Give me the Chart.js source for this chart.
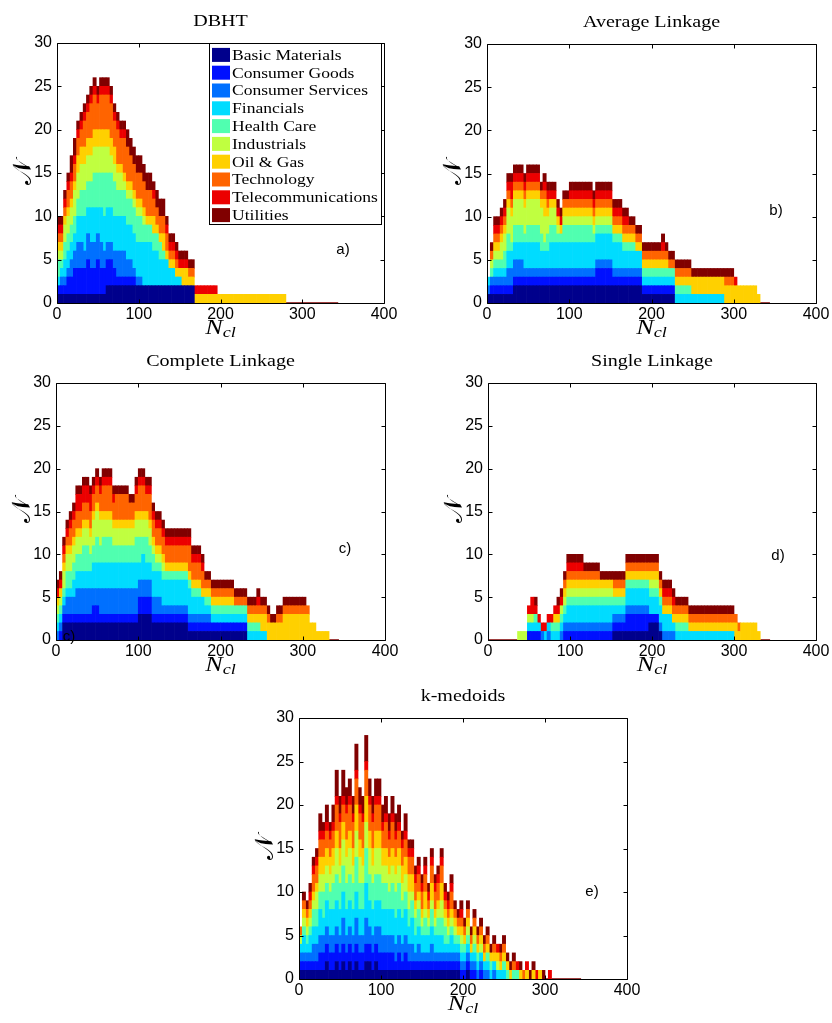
<!DOCTYPE html>
<html>
<head>
<meta charset="utf-8">
<title>Cluster composition by sector</title>
<script src="https://cdn.jsdelivr.net/npm/chart.js@4.4.1/dist/chart.umd.min.js"></script>
<style>
  body { margin: 0; background: #fff; }
  #page { position: relative; width: 832px; height: 1023px; overflow: hidden; background: #fff; }
  #page canvas { position: absolute; left: 0; top: 0; }
</style>
</head>
<body>
<div id="page"></div>
<script>
// sectors, bottom of each stack first
const sectors = ['Basic Materials', 'Consumer Goods', 'Consumer Services', 'Financials', 'Health Care',
                 'Industrials', 'Oil & Gas', 'Technology', 'Telecommunications', 'Utilities'];
const sectorColours = ['#00008c', '#0010ff', '#0070ff', '#00dcff', '#50ffb0',
                       '#c0ff40', '#ffd000', '#ff6400', '#ec0000', '#800000'];

// bins are 4 wide in N_cl, starting at 0
const binWidth = 4;
const xTicks = [0, 100, 200, 300, 400];
const yTicks = [0, 5, 10, 15, 20, 25, 30];

// one string per bin, one digit per sector (same order as sectors)
const dbht = [
  '1101211111', '1111111111', '1112221111', '1212221211', '1222221212',
  '1322231212', '1333232211', '1333332211', '1324332311', '1433332311',
  '1334332411', '1334432411', '1433432311', '1334432411', '1324532411',
  '2324432411', '2324422411', '2224422311', '2134321411', '2134321311',
  '2134311411', '2124311402', '2124311302', '2114311302', '2014311302',
  '2014311302', '2005211302', '2005201302', '2005201302', '2004202211',
  '2004201202', '2003201202', '2003102202', '2003001211', '2002001111',
  '2002001111', '2001001111', '2001001011', '2000002011', '2000002011',
  '2000001101', '2000001101', '0000001010', '0000001010', '0000001010',
  '0000001010', '0000001010', '0000001010', '0000001010', '0000001000',
  '0000001000', '0000001000', '0000001000', '0000001000', '0000001000',
  '0000001000', '0000001000', '0000001000', '0000001000', '0000001000',
  '0000001000', '0000001000', '0000001000', '0000001000', '0000001000',
  '0000001000', '0000001000', '0000001000', '0000001000', '0000001000',
  '0000000000', '0000000000', '0000000000', '0000000000', '0000000000',
  '0000000000', '0000000000', '0000000000', '0000000000', '0000000000',
  '0000000000', '0000000000', '0000000000', '0000000000', '0000000000',
  '0000000000'
];
const averageLinkage = [
  '1011000000', '1110110101', '1111111111', '1111111111', '1111121111',
  '1111221111', '1122231111', '1122131121', '2122231111', '2122231111',
  '2122231111', '2113131111', '2113231111', '2113231111', '2113231111',
  '2113231111', '2112231101', '2112132111', '2112221111', '2113221011',
  '2113221011', '2113111011', '2113101011', '2113211101', '2113211101',
  '2113211111', '2113211111', '2113211111', '2113211111', '2113211111',
  '2113211111', '2113211111', '2113111111', '2213111111', '2213111111',
  '2213111111', '2213111111', '2213111111', '2113101111', '2113101111',
  '2113101111', '2112101111', '2112101111', '2112101101', '2112101101',
  '2112001101', '2112001101', '1101101101', '1101101101', '1101101101',
  '1101101101', '1101101101', '1101101101', '1101101111', '1101101101',
  '1101100101', '1101100101', '0001101101', '0001101101', '0001101101',
  '0001101101', '0001101101', '0001002001', '0001002001', '0001002001',
  '0001002001', '0001002001', '0001002001', '0001002001', '0001002001',
  '0001002001', '0001002001', '0000002101', '0000002101', '0000002101',
  '0000002010', '0000002000', '0000002000', '0000002000', '0000002000',
  '0000002000', '0000002000', '0000001000', '0000000000', '0000000000',
  '0000000000'
];
const completeLinkage = [
  '0011111011', '0111111011', '2111121111', '2121221111', '2121221211',
  '2122221211', '2132221221', '2132221221', '2132321221', '2132321221',
  '2132221221', '2223231211', '2223331211', '2133231211', '2133321311',
  '2133321311', '2133321311', '2133221211', '2133221301', '2133221301',
  '2133221301', '2133221301', '2133221201', '2133221201', '2133321211',
  '3222321311', '3223221311', '3222321211', '3222221311', '2123211211',
  '2123111211', '2123111211', '2113111211', '2113101211', '2113101211',
  '2113101211', '2113101211', '2113101211', '2113101211', '2113101211',
  '1113101311', '1112101211', '1112101211', '1112101211', '1112001211',
  '1111101101', '1111101101', '1101101101', '1101101101', '1101101101',
  '1101101101', '1101101101', '1101101101', '1101101101', '1101100101',
  '1101100101', '1101100101', '1101100101', '0001101101', '0001101101',
  '0001101101', '0001101111', '0001002101', '0001002101', '0000002101',
  '0000002001', '0000002001', '0000002101', '0000002101', '0000003101',
  '0000003101', '0000003101', '0000003101', '0000003101', '0000003101',
  '0000003101', '0000003100', '0000002000', '0000002000', '0000001000',
  '0000001000', '0000001000', '0000001000', '0000000000', '0000000000',
  '0000000000'
];
const singleLinkage = [
  '0000000000', '0000000000', '0000000000', '0000000000', '0000000000',
  '0000000000', '0000000000', '0000000000', '0000000000', '0000010000',
  '0000010000', '0000010000', '0101010010', '0101010020', '0101100011',
  '0101000010', '0010000010', '0001000010', '0011000010', '0001100010',
  '0001101010', '0001101011', '0011110011', '0111111101', '0112111111',
  '0112111111', '0112111111', '0112111111', '0112111111', '0112111101',
  '0112111101', '0112111101', '0112111101', '0112111101', '0112111001',
  '0112111001', '0112111001', '0112111001', '1111101101', '1111101101',
  '1111101101', '1111101101', '1212101101', '1212101101', '1212101101',
  '1212101101', '1212101101', '1212101101', '1212101101', '2102111101',
  '2102111101', '2102111101', '1012101101', '0012001111', '0012001111',
  '0012001111', '0011001111', '0001101101', '0001101101', '0001101101',
  '0001101101', '0001001101', '0001001101', '0001001101', '0001001101',
  '0001001101', '0001001101', '0001001101', '0001001101', '0001001101',
  '0001001101', '0001001101', '0001001101', '0001001101', '0001001101',
  '0000002100', '0000001100', '0000002000', '0000002000', '0000002000',
  '0000002000', '0000002000', '0000001000', '0000000000', '0000000000',
  '0000000000'
];
const kMedoids = [
  '1111010100', '1112111101', '1111111101', '1112111111', '1122211211',
  '1122221211', '1223222212', '1222322211', '2223222212', '1223222211',
  '1223322212', '2223332313', '1223322312', '2233332213', '1223332312',
  '2223332312', '1223322312', '2233433313', '1223332312', '1223322312',
  '2234433313', '2223332312', '1223322312', '2223332312', '1233332312',
  '1223322212', '1223322312', '1223222212', '1223322312', '1123322212',
  '1223322212', '1123222211', '1223222212', '1122222211', '1123212211',
  '1112211211', '1122211211', '1112111211', '1112212211', '1112111111',
  '1122212211', '1112111211', '1112211211', '1112222211', '1111211111',
  '1111111111', '1112111211', '1111111101', '1111101101', '0111111111',
  '0111101101', '1111111101', '0111001101', '0111111101', '0011101101',
  '0111011101', '0011001101', '0011101101', '0001101001', '0011001101',
  '0001011010', '0001001101', '0001101101', '0000101001', '0000001001',
  '0000100101', '0000100010', '0000001001', '0000000100', '0000001010',
  '0000000001', '0000001001', '0000000010', '0000001000', '0000000001',
  '0000000000', '0000000010', '0000000000', '0000000000', '0000000000',
  '0000000000', '0000000000', '0000000000', '0000000000', '0000000000',
  '0000000000'
];

// plot rectangles in page pixels: left, top, right, bottom
const panels = [
  { bins: dbht, title: 'DBHT', area: [57, 43, 384, 303], tag: 'a)', tagAt: [343, 250], legendBox: [209, 43, 382, 225] },
  { bins: averageLinkage, title: 'Average Linkage', area: [487, 44, 816, 303], tag: 'b)', tagAt: [776, 211] },
  { bins: completeLinkage, title: 'Complete Linkage', area: [56, 383, 385, 640], tag: 'c)', tagAt: [345, 549], extraTag: [69, 637] },
  { bins: singleLinkage, title: 'Single Linkage', area: [488, 383, 816, 640], tag: 'd)', tagAt: [778, 556] },
  { bins: kMedoids, title: 'k-medoids', area: [299, 718, 627, 979], tag: 'e)', tagAt: [592, 892] }
];

const W = 832, H = 1023;
const yAxisWidth = 40, xAxisHeight = 24;
const serif = '"Liberation Serif", "Times New Roman", serif';
const sans = '"Liberation Sans", Arial, sans-serif';

// serif text, stretched sideways a little
function wideText(ctx, text, x, y, font, stretch, align) {
  ctx.save();
  ctx.font = font;
  const w = ctx.measureText(text).width * stretch;
  let left = x;
  if (align === 'center') left = x - w / 2;
  if (align === 'right') left = x - w;
  ctx.translate(left, y);
  ctx.scale(stretch, 1);
  ctx.textAlign = 'left';
  ctx.fillText(text, 0, 0);
  ctx.restore();
  return w;
}

// box with inward ticks on all four sides
const framePlugin = {
  id: 'frame',
  afterDraw(chart) {
    const { ctx, chartArea: a, scales: { x, y } } = chart;
    const l = Math.round(a.left) + 0.5, r = Math.round(a.right) + 0.5;
    const t = Math.round(a.top) + 0.5, b = Math.round(a.bottom) + 0.5;
    ctx.save();
    ctx.strokeStyle = '#000';
    ctx.lineWidth = 1;
    ctx.beginPath();
    ctx.rect(l, t, r - l, b - t);
    xTicks.forEach(v => {
      const px = Math.round(x.getPixelForValue(v)) + 0.5;
      ctx.moveTo(px, b); ctx.lineTo(px, b - 4);
      ctx.moveTo(px, t); ctx.lineTo(px, t + 4);
    });
    yTicks.forEach(v => {
      const py = Math.round(y.getPixelForValue(v)) + 0.5;
      ctx.moveTo(l, py); ctx.lineTo(l + 4, py);
      ctx.moveTo(r, py); ctx.lineTo(r - 4, py);
    });
    ctx.stroke();
    ctx.restore();
  }
};

function textPlugin(p) {
  return {
    id: 'panelText',
    afterDraw(chart) {
      const { ctx, chartArea: a } = chart;
      const cx = (a.left + a.right) / 2;
      ctx.save();
      ctx.fillStyle = '#000';
      ctx.textBaseline = 'alphabetic';

      // title
      wideText(ctx, p.title, cx, a.top - 17, '17px ' + serif, 1.18, 'center');

      // N_cl under the x axis
      const big = 'italic 21px ' + serif;
      const small = 'italic 14px ' + serif;
      ctx.font = big;
      const wN = ctx.measureText('N').width * 1.25;
      ctx.font = small;
      const wS = ctx.measureText('cl').width * 1.3;
      const x0 = cx - (wN + wS) / 2;
      wideText(ctx, 'N', x0, a.bottom + 31, big, 1.25, 'left');
      wideText(ctx, 'cl', x0 + wN, a.bottom + 34, small, 1.3, 'left');

      // script N on the y axis
      ctx.save();
      ctx.translate(a.left - 33, (a.top + a.bottom) / 2 - 1);
      ctx.rotate(-Math.PI / 2);
      ctx.font = '26px "DejaVu Serif", serif';
      ctx.textAlign = 'center';
      ctx.textBaseline = 'middle';
      ctx.fillText('\u{1D4A9}', 0, 0);
      ctx.restore();

      // panel letter
      ctx.font = '15px ' + sans;
      ctx.textAlign = 'center';
      ctx.textBaseline = 'middle';
      ctx.fillText(p.tag, p.tagAt[0], p.tagAt[1]);
      if (p.extraTag) ctx.fillText(p.tag, p.extraTag[0], p.extraTag[1]);

      // sector legend
      if (p.legendBox) {
        const [bl, bt, br, bb] = p.legendBox;
        ctx.fillStyle = '#fff';
        ctx.fillRect(bl, bt, br - bl, bb - bt);
        ctx.strokeStyle = '#000';
        ctx.lineWidth = 1;
        ctx.strokeRect(bl + 0.5, bt + 0.5, br - bl - 1, bb - bt - 1);
        const step = (bb - bt - 4) / sectors.length;
        ctx.textBaseline = 'middle';
        chart.data.datasets.filter(d => d.type === 'bar').forEach((d, i) => {
          const yc = bt + 3 + step * (i + 0.5);
          ctx.fillStyle = d.backgroundColor;
          ctx.fillRect(bl + 3, yc - 7, 18, 14);
          ctx.fillStyle = '#000';
          wideText(ctx, d.label, bl + 23, yc + 1, '15px ' + serif, 1.17, 'left');
        });
      }
      ctx.restore();
    }
  };
}

function drawPanel(p) {
  const canvas = document.createElement('canvas');
  canvas.width = W;
  canvas.height = H;
  document.getElementById('page').appendChild(canvas);
  const [L, T, R, B] = p.area;

  const datasets = sectors.map((name, s) => ({
    type: 'bar',
    label: name,
    backgroundColor: sectorColours[s],
    borderWidth: 0,
    barPercentage: 1,
    categoryPercentage: 1,
    data: p.bins.map((bin, k) => ({ x: k * binWidth + binWidth / 2, y: Number(bin[s]) || null }))
  }));

  // empty bins inside the range still show as a line on the axis
  const base = [];
  p.bins.forEach((bin, k) => {
    const total = bin.split('').reduce((acc, c) => acc + Number(c), 0);
    if (total === 0) {
      base.push({ x: k * binWidth, y: 0 }, { x: (k + 1) * binWidth, y: 0 });
    } else {
      base.push({ x: k * binWidth + binWidth / 2, y: null });
    }
  });
  datasets.push({
    type: 'line', label: 'empty', data: base, stack: 'base',
    borderColor: '#800000', borderWidth: 1.5, pointRadius: 0, spanGaps: false
  });

  new Chart(canvas, {
    data: { datasets },
    options: {
      responsive: false,
      animation: false,
      devicePixelRatio: 1,
      layout: { padding: { left: L - yAxisWidth, top: T, right: W - R, bottom: H - B - xAxisHeight } },
      plugins: { legend: { display: false }, tooltip: { enabled: false } },
      scales: {
        x: {
          type: 'linear', min: 0, max: 400, stacked: true, offset: false,
          grid: { display: false, drawTicks: false }, border: { display: false },
          afterBuildTicks: s => { s.ticks = xTicks.map(v => ({ value: v })); },
          afterFit: s => { s.height = xAxisHeight; s.paddingLeft = 0; s.paddingRight = 0; },
          ticks: { color: '#000', padding: 2, maxRotation: 0, autoSkip: false, font: { family: sans, size: 16 } }
        },
        y: {
          type: 'linear', min: 0, max: 30, stacked: true,
          grid: { display: false, drawTicks: false }, border: { display: false },
          afterBuildTicks: s => { s.ticks = yTicks.map(v => ({ value: v })); },
          afterFit: s => { s.width = yAxisWidth; s.paddingTop = 0; s.paddingBottom = 0; },
          ticks: { color: '#000', padding: 5, autoSkip: false, font: { family: sans, size: 16 } }
        }
      }
    },
    plugins: [framePlugin, textPlugin(p)]
  });
}

panels.forEach(drawPanel);
</script>
</body>
</html>
